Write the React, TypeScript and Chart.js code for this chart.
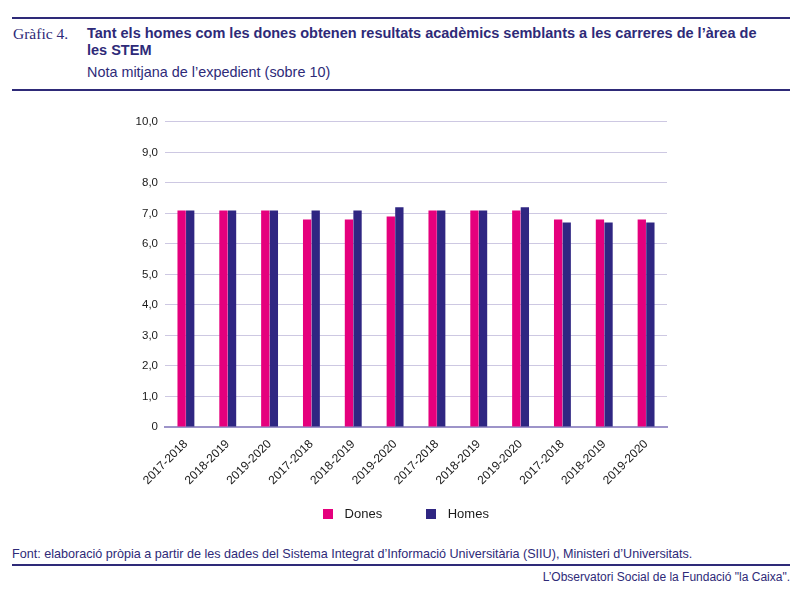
import React, { useEffect, useRef } from "react";
import { Chart, registerables } from "chart.js";

Chart.register(...registerables);

const periods = [
  "2017-2018", "2018-2019", "2019-2020",
  "2017-2018", "2018-2019", "2019-2020",
  "2017-2018", "2018-2019", "2019-2020",
  "2017-2018", "2018-2019", "2019-2020",
];
const dones = [7.1, 7.1, 7.1, 6.8, 6.8, 6.9, 7.1, 7.1, 7.1, 6.8, 6.8, 6.8];
const homes = [7.1, 7.1, 7.1, 7.1, 7.1, 7.2, 7.1, 7.1, 7.2, 6.7, 6.7, 6.7];
const seriesNames = ["Dones", "Homes"];
const yTicks = [0, 1, 2, 3, 4, 5, 6, 7, 8, 9, 10];

const NAVY = "#2e2a78";
const PINK = "#e5007d";
const BAR_NAVY = "#2f2682";
const SANS = "'Liberation Sans', Arial, sans-serif";

function makeBox(color: string) {
  const c = document.createElement("canvas");
  c.width = 10;
  c.height = 10;
  const g = c.getContext("2d");
  if (g) {
    g.fillStyle = color;
    g.fillRect(0, 0, 10, 10);
  }
  return c;
}

export default function App() {
  const ref = useRef<HTMLCanvasElement>(null);

  useEffect(() => {
    if (!ref.current) return;
    const colors = [PINK, BAR_NAVY];
    const boxes = colors.map(makeBox);
    const noClip = (s: any) => { s._computeLabelArea = () => undefined; };
    const chart = new Chart(ref.current, {
      type: "bar",
      data: {
        labels: periods,
        datasets: [
          { label: seriesNames[0], data: dones, backgroundColor: colors[0], categoryPercentage: 0.41, barPercentage: 0.97 },
          { label: seriesNames[1], data: homes, backgroundColor: colors[1], categoryPercentage: 0.41, barPercentage: 0.97 },
        ],
      },
      options: {
        animation: false,
        responsive: false,
        maintainAspectRatio: false,
        layout: { padding: { top: 11, right: 33, bottom: 2.5, left: 39 } },
        plugins: {
          tooltip: { enabled: false },
          legend: {
            position: "bottom",
            labels: {
              usePointStyle: true,
              pointStyleWidth: 21,
              boxWidth: 10,
              boxHeight: 10,
              padding: 38,
              color: "#1a1a1a",
              font: { family: SANS, size: 13 },
              generateLabels: (ch: any) =>
                (Chart.defaults.plugins.legend.labels.generateLabels as any)(ch).map((it: any, i: number) => ({
                  ...it,
                  pointStyle: boxes[i],
                })),
            },
          },
        },
        scales: {
          x: {
            grid: { display: false },
            border: { color: "#9d94c9", width: 2 },
            ticks: {
              maxRotation: 45,
              minRotation: 45,
              autoSkip: false,
              color: "#1a1a1a",
              padding: 2,
              font: { family: SANS, size: 12 },
            },
            afterFit: (s: any) => { s.height = 42.5; noClip(s); },
          },
          y: {
            min: 0,
            max: 10,
            afterBuildTicks: (s: any) => { s.ticks = yTicks.map((v) => ({ value: v })); },
            grid: { color: "#cdc8e2", drawTicks: false },
            border: { display: false },
            ticks: {
              padding: 7,
              color: "#1a1a1a",
              font: { family: SANS, size: 11.5 },
              callback: (v: any) => (v === 0 ? "0" : Number(v).toFixed(1).replace(".", ",")),
            },
            afterFit: (s: any) => { s.width = 26; noClip(s); },
          },
        },
      } as any,
    });
    return () => chart.destroy();
  }, []);

  const rule = (top: number): React.CSSProperties => ({
    position: "absolute", left: 12, width: 778, top, height: 2, background: NAVY,
  });

  return (
    <div style={{ position: "absolute", left: 0, top: 0, width: 800, height: 591, background: "#fff", overflow: "hidden" }}>
      <div style={rule(16.5)} />
      <div style={{ position: "absolute", left: 13, top: 24.5, fontFamily: "'Liberation Serif', 'DejaVu Serif', serif", fontSize: 15.5, lineHeight: "normal", color: NAVY, whiteSpace: "nowrap" }}>
        Gràfic 4.
      </div>
      <div style={{ position: "absolute", left: 87, top: 24.5, width: 685, fontFamily: SANS, fontWeight: 700, fontSize: 14.5, lineHeight: "17.5px", color: NAVY }}>
        Tant els homes com les dones obtenen resultats acadèmics semblants a les carreres de l’àrea de les STEM
      </div>
      <div style={{ position: "absolute", left: 87, top: 63.5, fontFamily: SANS, fontSize: 14.4, lineHeight: "normal", color: NAVY, whiteSpace: "nowrap" }}>
        Nota mitjana de l’expedient (sobre 10)
      </div>
      <div style={rule(89)} />
      <canvas ref={ref} width={600} height={425} style={{ position: "absolute", left: 100, top: 108, width: 600, height: 425 }} />
      <div style={{ position: "absolute", left: 12, top: 546.5, fontFamily: SANS, fontSize: 12.6, color: NAVY, whiteSpace: "nowrap" }}>
        Font: elaboració pròpia a partir de les dades del Sistema Integrat d’Informació Universitària (SIIU), Ministeri d’Universitats.
      </div>
      <div style={rule(564)} />
      <div style={{ position: "absolute", right: 10, top: 570, fontFamily: SANS, fontSize: 12, color: NAVY, whiteSpace: "nowrap" }}>
        L’Observatori Social de la Fundació "la Caixa".
      </div>
    </div>
  );
}
